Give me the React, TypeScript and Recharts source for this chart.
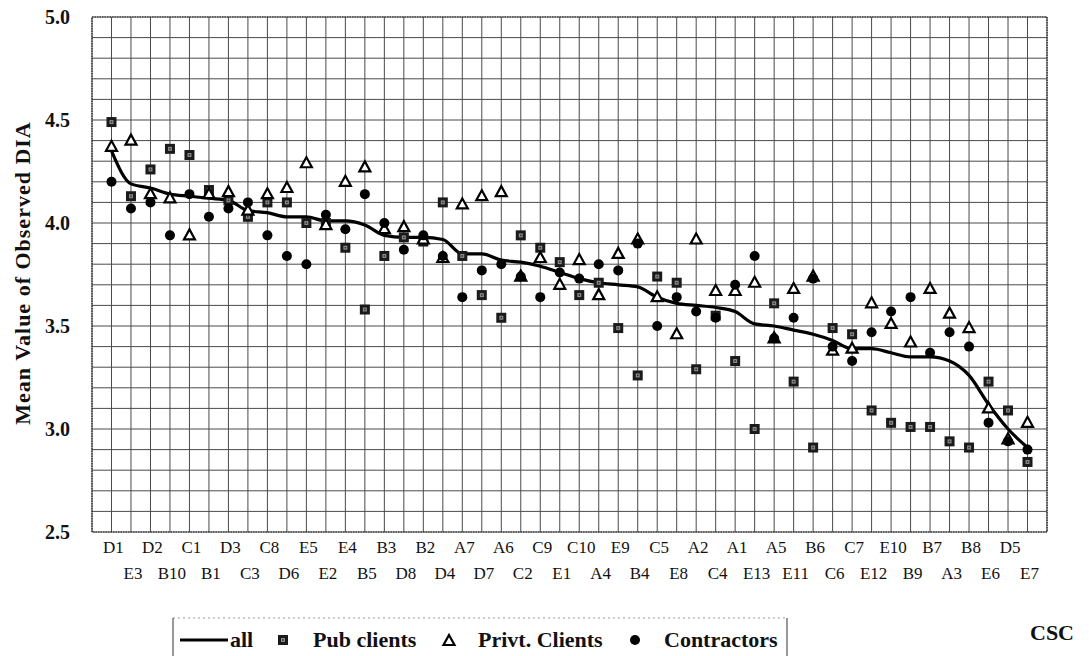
import React from 'react';
import { ComposedChart, Line, XAxis, YAxis, CartesianGrid } from 'recharts';

const categories = ['D1','E3','D2','B10','C1','B1','D3','C3','C8','D6','E5','E2','E4','B5','B3','D8','B2','D4','A7','D7','A6','C2','C9','E1','C10','A4','E9','B4','C5','E8','A2','C4','A1','E13','A5','E11','B6','C6','C7','E12','E10','B9','B7','A3','B8','E6','D5','E7'];

const allValues = [4.35,4.19,4.17,4.14,4.13,4.12,4.11,4.06,4.05,4.03,4.03,4.01,4.01,3.99,3.94,3.93,3.93,3.92,3.85,3.85,3.82,3.81,3.79,3.76,3.73,3.71,3.70,3.69,3.64,3.61,3.60,3.59,3.57,3.51,3.50,3.48,3.46,3.43,3.39,3.39,3.37,3.35,3.35,3.33,3.26,3.12,3.00,2.91];

const pubClients = [4.49,4.13,4.26,4.36,4.33,4.16,4.11,4.03,4.10,4.10,4.00,4.00,3.88,3.58,3.84,3.93,3.91,4.10,3.84,3.65,3.54,3.94,3.88,3.81,3.65,3.71,3.49,3.26,3.74,3.71,3.29,3.55,3.33,3.00,3.61,3.23,2.91,3.49,3.46,3.09,3.03,3.01,3.01,2.94,2.91,3.23,3.09,2.84];

const privtClients = [4.37,4.40,4.14,4.12,3.94,4.14,4.15,4.06,4.14,4.17,4.29,3.99,4.20,4.27,3.97,3.98,3.92,3.83,4.09,4.13,4.15,3.74,3.83,3.70,3.82,3.65,3.85,3.92,3.64,3.46,3.92,3.67,3.67,3.71,3.44,3.68,3.74,3.38,3.39,3.61,3.51,3.42,3.68,3.56,3.49,3.10,2.95,3.03];

const contractors = [4.20,4.07,4.10,3.94,4.14,4.03,4.07,4.10,3.94,3.84,3.80,4.04,3.97,4.14,4.00,3.87,3.94,3.84,3.64,3.77,3.80,3.74,3.64,3.76,3.73,3.80,3.77,3.90,3.50,3.64,3.57,3.54,3.70,3.84,3.44,3.54,3.73,3.40,3.33,3.47,3.57,3.64,3.37,3.47,3.40,3.03,2.94,2.90];

const yTicks = [2.5,2.6,2.7,2.8,2.9,3.0,3.1,3.2,3.3,3.4,3.5,3.6,3.7,3.8,3.9,4.0,4.1,4.2,4.3,4.4,4.5,4.6,4.7,4.8,4.9,5.0];
const yLabelTicks = ['2.5','3.0','3.5','4.0','4.5','5.0'];

const data = categories.map((c, i) => ({
  idx: i + 1,
  cat: c,
  all: allValues[i],
  pub: pubClients[i],
  priv: privtClients[i],
  con: contractors[i],
}));
const xTicks = data.map((d) => d.idx);

const FONT = "'Liberation Serif', 'Times New Roman', serif";

const SquareMark = ({ cx, cy }: any) => (
  <g>
    <rect x={cx - 5} y={cy - 5} width={10} height={10} fill="#1a1a1a" />
    <rect x={cx - 2} y={cy - 2} width={4} height={4} fill="#8a8a8a" />
    <rect x={cx - 0.75} y={cy - 0.75} width={1.5} height={1.5} fill="#2a2a2a" />
  </g>
);
const TriMark = ({ cx, cy }: any) => (
  <polygon
    points={`${cx},${cy - 6} ${cx + 5.5},${cy + 4} ${cx - 5.5},${cy + 4}`}
    fill="#fff"
    stroke="#000"
    strokeWidth={2.2}
    strokeLinejoin="miter"
  />
);
const CircleMark = ({ cx, cy }: any) => <circle cx={cx} cy={cy} r={5} fill="#000" />;

const XTick = (props: any) => {
  const { x, payload } = props;
  const i = payload.value - 1;
  const label = categories[i];
  if (label === undefined) return null;
  const bottomRow = i % 2 === 1;
  return (
    <text
      x={x + 2}
      y={bottomRow ? 579 : 553}
      textAnchor="middle"
      fontFamily={FONT}
      fontSize={17}
      fill="#111"
    >
      {label}
    </text>
  );
};

const YTick = (props: any) => {
  const { y, payload } = props;
  const v = Number(payload.value).toFixed(1);
  if (!yLabelTicks.includes(v)) return null;
  return (
    <text
      x={70}
      y={y + 7}
      textAnchor="end"
      fontFamily={FONT}
      fontWeight="bold"
      fontSize={20}
      fill="#111"
    >
      {v}
    </text>
  );
};

export default function App() {
  return (
    <div style={{ position: 'relative', width: 1089, height: 656, margin: '-8px 0 0 -8px', background: '#fff' }}>
      <ComposedChart
        width={1089}
        height={656}
        data={data}
        margin={{ top: 17, right: 42, bottom: 0, left: 0 }}
      >
        <CartesianGrid stroke="#4a4a4a" strokeWidth={1} />
        <XAxis
          dataKey="idx"
          type="number"
          domain={[0, 49]}
          ticks={xTicks}
          interval={0}
          height={124}
          tickLine={false}
          axisLine={false}
          tick={<XTick />}
        />
        <YAxis
          type="number"
          domain={[2.5, 5.0]}
          ticks={yTicks}
          interval={0}
          width={92}
          tickLine={false}
          axisLine={false}
          tick={<YTick />}
          allowDataOverflow
        />
        <Line
          dataKey="all"
          type="monotone"
          stroke="#000"
          strokeWidth={3.2}
          dot={false}
          activeDot={false}
          isAnimationActive={false}
        />
        <Line
          dataKey="pub"
          stroke="none"
          dot={(p: any) => <SquareMark key={`p${p.index}`} cx={p.cx} cy={p.cy} />}
          activeDot={false}
          isAnimationActive={false}
        />
        <Line
          dataKey="priv"
          stroke="none"
          dot={(p: any) => <TriMark key={`t${p.index}`} cx={p.cx} cy={p.cy} />}
          activeDot={false}
          isAnimationActive={false}
        />
        <Line
          dataKey="con"
          stroke="none"
          dot={(p: any) => <CircleMark key={`c${p.index}`} cx={p.cx} cy={p.cy} />}
          activeDot={false}
          isAnimationActive={false}
        />
      </ComposedChart>
      <svg
        width={1089}
        height={656}
        style={{ position: 'absolute', left: 0, top: 0, pointerEvents: 'none' }}
      >
        <rect x={92} y={17} width={955} height={515} fill="none" stroke="#222" strokeWidth={1.2} strokeDasharray="1.5 1" />
        <text
          x={30}
          y={273}
          transform="rotate(-90, 30, 273)"
          textAnchor="middle"
          fontFamily={FONT}
          fontWeight="bold"
          fontSize={22}
          letterSpacing={1}
          fill="#111"
        >
          Mean Value of Observed DIA
        </text>
        <line x1={173} y1={618} x2={787} y2={618} stroke="#999" strokeWidth={1} strokeDasharray="2 3" />
        <line x1={173} y1={618} x2={173} y2={656} stroke="#333" strokeWidth={1} />
        <line x1={787} y1={618} x2={787} y2={656} stroke="#333" strokeWidth={1} />
        <line x1={180} y1={640} x2={228} y2={640} stroke="#000" strokeWidth={3} />
        <text x={230} y={647} fontFamily={FONT} fontWeight="bold" fontSize={22} fill="#111">all</text>
        <SquareMark cx={283} cy={640} />
        <text x={313} y={647} fontFamily={FONT} fontWeight="bold" fontSize={22} fill="#111">Pub clients</text>
        <TriMark cx={449} cy={641} />
        <text x={478} y={647} fontFamily={FONT} fontWeight="bold" fontSize={22} fill="#111">Privt. Clients</text>
        <CircleMark cx={635} cy={640} />
        <text x={664} y={647} fontFamily={FONT} fontWeight="bold" fontSize={22} fill="#111">Contractors</text>
        <text x={1030} y={640} fontFamily={FONT} fontWeight="bold" fontSize={22} fill="#111">CSC</text>
      </svg>
    </div>
  );
}
